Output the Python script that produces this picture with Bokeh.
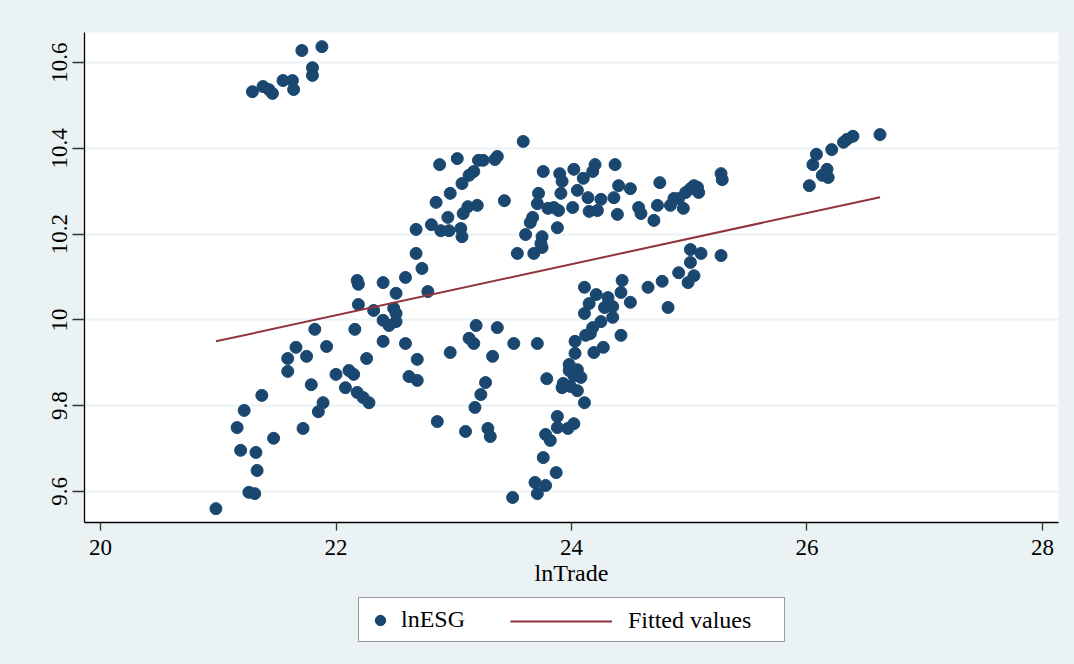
from bokeh.plotting import figure
from bokeh.models import Legend, LegendItem, FixedTicker, Range1d
from bokeh.layouts import column
from bokeh.embed import file_html
from bokeh.resources import INLINE

ln_trade = [
    21.29, 21.38, 21.43, 21.46, 21.55, 21.63, 21.64, 21.71, 21.88, 21.80, 21.80,
    20.98, 21.26, 21.31, 21.33, 21.32, 21.19, 21.16, 21.22, 21.37, 21.47, 21.59,
    21.59, 21.66, 21.72, 21.75, 21.79, 21.82, 21.85, 21.89, 21.92, 22.00, 22.08,
    22.11, 22.15, 22.16, 22.18, 22.19, 22.23, 22.26, 22.28, 22.32, 22.40, 22.40,
    22.45, 22.49, 22.51, 22.59, 22.62, 22.69, 22.69, 22.18, 22.19,
    22.88, 23.03, 23.21, 23.25, 23.37, 23.35, 23.17, 23.13, 23.07, 22.97, 22.85,
    23.43, 23.20, 23.12, 23.08, 22.81, 22.95, 22.89, 22.96, 23.06, 23.07, 22.68,
    22.68, 22.59, 22.73, 22.40, 22.51, 22.78, 22.51, 23.19, 23.37, 23.59, 22.86,
    22.97,
    24.15, 24.11, 24.28, 24.35, 24.50, 24.35, 24.25, 24.18, 24.16, 24.12, 24.42,
    23.13, 23.17, 23.51, 23.71, 24.03, 23.33, 24.03, 24.19, 24.27, 23.98, 23.98,
    24.05, 24.08, 24.02, 23.27, 23.23, 23.18, 23.79, 23.93, 23.92, 23.99, 24.05,
    24.11, 23.88, 23.88, 23.97, 24.02, 23.10, 23.29, 23.31, 23.78, 23.82, 23.76,
    23.87, 23.69, 23.78, 23.71, 23.50,
    24.11, 24.21, 24.31, 24.43, 24.42, 24.65, 24.77, 24.82, 24.91, 24.99, 25.01,
    25.01, 25.10, 25.27, 25.04,
    23.76, 23.90, 24.02, 24.20, 24.37, 24.18, 24.10, 23.92, 24.05, 23.91, 23.72,
    24.40, 24.50, 24.36, 24.25, 24.14, 24.75, 23.71, 23.80, 23.89, 24.01, 24.15,
    24.22, 24.39, 24.57, 24.59, 24.73, 24.70, 24.87, 24.84, 24.95, 25.01, 25.07,
    24.97, 25.27, 25.28, 23.65, 23.88, 23.61, 23.75, 23.75, 23.68, 23.54, 23.85,
    23.67, 23.74, 25.04, 25.08, 24.91,
    26.62, 26.39, 26.34, 26.31, 26.21, 26.08, 26.05, 26.17, 26.13, 26.18, 26.02,
]
ln_esg = [
    10.532, 10.544, 10.537, 10.528, 10.558, 10.558, 10.537, 10.628, 10.637, 10.588, 10.570,
    9.560, 9.598, 9.595, 9.649, 9.691, 9.696, 9.749, 9.789, 9.824, 9.724, 9.910,
    9.880, 9.936, 9.747, 9.915, 9.849, 9.978, 9.786, 9.807, 9.938, 9.873, 9.842,
    9.882, 9.873, 9.978, 9.831, 10.036, 9.819, 9.910, 9.807, 10.022, 9.999, 9.950,
    9.987, 10.027, 9.996, 9.945, 9.868, 9.908, 9.859, 10.092, 10.083,
    10.362, 10.376, 10.372, 10.372, 10.381, 10.374, 10.346, 10.337, 10.318, 10.295, 10.274,
    10.278, 10.267, 10.264, 10.248, 10.222, 10.239, 10.208, 10.208, 10.213, 10.194, 10.211,
    10.155, 10.099, 10.120, 10.087, 10.062, 10.066, 10.015, 9.987, 9.982, 10.416, 9.763,
    9.924,
    10.038, 10.015, 10.029, 10.031, 10.041, 10.006, 9.996, 9.982, 9.968, 9.964, 9.964,
    9.957, 9.945, 9.945, 9.945, 9.950, 9.915, 9.922, 9.924, 9.936, 9.896, 9.882,
    9.884, 9.866, 9.870, 9.854, 9.826, 9.796, 9.863, 9.852, 9.842, 9.845, 9.835,
    9.807, 9.775, 9.749, 9.747, 9.758, 9.740, 9.747, 9.728, 9.733, 9.719, 9.679,
    9.644, 9.621, 9.614, 9.595, 9.586,
    10.076, 10.059, 10.052, 10.092, 10.064, 10.076, 10.090, 10.029, 10.110, 10.087, 10.134,
    10.164, 10.155, 10.150, 10.103,
    10.346, 10.341, 10.351, 10.362, 10.362, 10.346, 10.330, 10.323, 10.302, 10.295, 10.295,
    10.313, 10.306, 10.285, 10.281, 10.285, 10.320, 10.271, 10.260, 10.255, 10.262, 10.253,
    10.255, 10.246, 10.262, 10.248, 10.267, 10.232, 10.283, 10.267, 10.260, 10.306, 10.309,
    10.297, 10.341, 10.327, 10.227, 10.215, 10.199, 10.194, 10.169, 10.155, 10.155, 10.262,
    10.239, 10.178, 10.313, 10.297, 10.283,
    10.432, 10.428, 10.421, 10.414, 10.397, 10.386, 10.362, 10.351, 10.337, 10.332, 10.313,
]

# Fitted values (linear fit) at the ends of the lnTrade range
fit_x = [20.98, 26.62]
fit_y = [9.950, 10.286]

x_ticks = [20, 22, 24, 26, 28]
y_ticks = [9.6, 9.8, 10.0, 10.2, 10.4, 10.6]
y_tick_labels = ["9.6", "9.8", "10", "10.2", "10.4", "10.6"]

NAVY = "#1a476f"
MAROON = "#90353b"
BG = "#eaf2f3"
FONT = "Liberation Serif"

p = figure(
    frame_width=974, frame_height=490,
    x_range=Range1d(19.864, 28.136), y_range=Range1d(9.5277, 10.670),
    output_backend="svg", toolbar_location=None,
    min_border_left=84, min_border_right=16, min_border_top=32, min_border_bottom=68,
)
p.border_fill_color = BG
p.background_fill_color = "white"
p.outline_line_color = None

sc = p.scatter(ln_trade, ln_esg, size=12, fill_color=NAVY, line_color=NAVY)
ln = p.line(fit_x, fit_y, line_color=MAROON, line_width=2)

# axes
p.xaxis.ticker = FixedTicker(ticks=x_ticks)
p.yaxis.ticker = FixedTicker(ticks=y_ticks)
p.yaxis.major_label_overrides = dict(zip(y_ticks, y_tick_labels))
p.yaxis.major_label_orientation = "vertical"
p.xaxis.axis_label = "lnTrade"
for ax in (p.xaxis, p.yaxis):
    ax.axis_line_color = "black"
    ax.axis_line_width = 1.3
    ax.major_tick_line_color = "#333333"
    ax.major_tick_line_width = 1.3
    ax.major_tick_in = 0
    ax.minor_tick_line_color = None
    ax.major_label_text_font = FONT
    ax.major_label_text_font_size = "23px"
    ax.major_label_text_color = "black"
    ax.axis_label_text_font = FONT
    ax.axis_label_text_font_size = "24px"
    ax.axis_label_text_font_style = "normal"
    ax.axis_label_text_color = "black"
p.xaxis.major_tick_out = 8
p.yaxis.major_tick_out = 12
p.xaxis.major_label_standoff = 9
p.yaxis.major_label_standoff = 5
p.xaxis.axis_label_standoff = 2

p.xgrid.visible = False
p.ygrid.grid_line_color = BG
p.ygrid.grid_line_width = 2

# legend strip below the plot (its frame is aligned with the plot frame)
p2 = figure(
    frame_width=974, height=74, x_range=Range1d(0, 1), y_range=Range1d(0, 1),
    x_axis_type=None, y_axis_type=None,
    output_backend="svg", toolbar_location=None,
    min_border_left=84, min_border_right=16, min_border_top=0, min_border_bottom=0,
)
p2.border_fill_color = BG
p2.background_fill_color = BG
p2.outline_line_color = None
p2.xgrid.visible = False
p2.ygrid.visible = False
# key renderers use the same data; it lies outside this strip's ranges so only the keys show
key_pt = p2.scatter(ln_trade, ln_esg, size=12, fill_color=NAVY, line_color=NAVY)
key_ln = p2.line(fit_x, fit_y, line_color=MAROON, line_width=2)

common = dict(
    orientation="horizontal", margin=0, padding=8,
    label_text_font=FONT, label_text_font_size="24px", label_text_color="black",
)
leg_a = Legend(
    items=[LegendItem(label="lnESG", renderers=[key_pt])],
    location=(274, 22), glyph_width=26, glyph_height=26,
    label_width=375, label_standoff=8,
    border_line_color="#333333", border_line_width=1,
    background_fill_color="white", background_fill_alpha=1.0,
    **common,
)
leg_b = Legend(
    items=[LegendItem(label="Fitted values", renderers=[key_ln])],
    location=(418, 22), glyph_width=102, glyph_height=26,
    label_standoff=16,
    border_line_alpha=0, background_fill_alpha=0,
    **common,
)
p2.add_layout(leg_a, "center")
p2.add_layout(leg_b, "center")

layout = column(p, p2, spacing=0, styles={"background-color": BG})
open("out.html", "w").write(file_html(layout, INLINE))
